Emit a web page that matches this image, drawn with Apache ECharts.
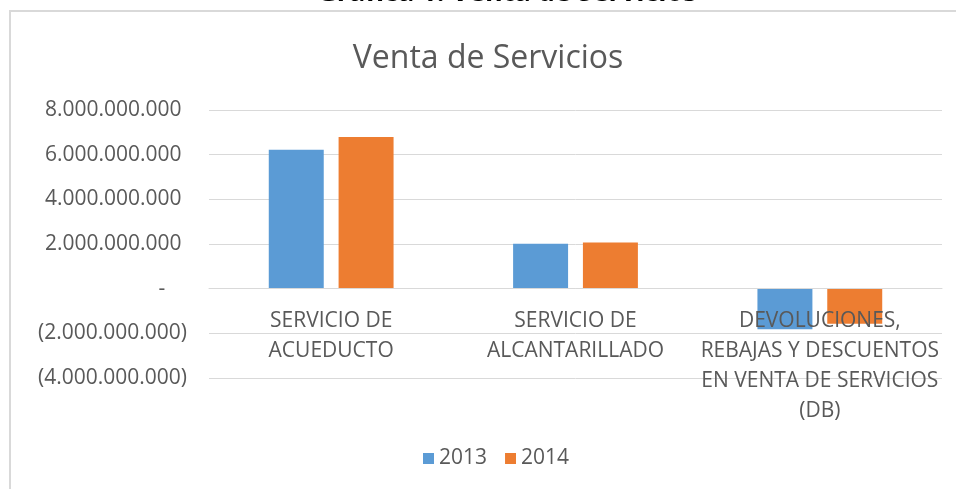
<!DOCTYPE html>
<html>
<head>
<meta charset="utf-8">
<script src="https://cdn.jsdelivr.net/npm/echarts@6/dist/echarts.min.js"></script>
<style>
  html, body { margin: 0; padding: 0; background: #fff; }
  #chart { width: 956px; height: 489px; }
</style>
</head>
<body>
<div id="chart"></div>
<script>
var categories = ['SERVICIO DE\nACUEDUCTO', 'SERVICIO DE\nALCANTARILLADO', 'DEVOLUCIONES,\nREBAJAS Y DESCUENTOS\nEN VENTA DE SERVICIOS\n(DB)'];
var serie2013 = [6220000000, 2010000000, -1820000000];
var serie2014 = [6790000000, 2070000000, -1570000000];
var yMin = -4000000000, yMax = 8000000000, yStep = 2000000000;

var txt = '#595959';
var font = 'Open Sans';

// formato contable tipo Excel: miles con punto, negativos entre paréntesis
function fmt(v){
    if(v === 0) return '-    ';
    var s = Math.abs(v).toString().replace(/\B(?=(\d{3})+(?!\d))/g, '.');
    return v < 0 ? '(' + s + ')' : s + ' ';
}

var chart = echarts.init(document.getElementById('chart'));
chart.setOption({
    animation: false,
    textStyle: { fontFamily: font },
    title: {
        text: 'Venta de Servicios',
        left: 483, top: 38, textAlign: 'center',
        textStyle: { fontFamily: font, fontSize: 32, fontWeight: 'normal', color: txt }
    },
    graphic: [
        {
            type: 'rect', shape: { x: 10, y: 11, width: 980, height: 500 },
            style: { fill: 'none', stroke: '#d9d9d9', lineWidth: 2 }, silent: true
        },
        {
            type: 'text', x: 507, y: -7,
            style: { text: 'Gráfica 1. Venta de Servicios', fill: '#000', font: 'bold 27px "Open Sans"', align: 'center', verticalAlign: 'middle' }
        }
    ],
    legend: {
        data: ['2013', '2014'],
        top: 443,
        left: 418,
        icon: 'rect',
        itemWidth: 11, itemHeight: 11, itemGap: 18,
        textStyle: { fontFamily: font, fontSize: 21, color: txt }
    },
    grid: { left: 209, right: 14, top: 110, bottom: 111, outerBoundsMode: 'none' },
    xAxis: {
        type: 'category',
        data: categories,
        z: 3,
        offset: -88,
        axisLine: { lineStyle: { color: '#d9d9d9', width: 1 } },
        axisTick: { show: false },
        axisLabel: { fontFamily: font, fontSize: 21, color: txt, lineHeight: 30, margin: 16, interval: 0 }
    },
    yAxis: {
        type: 'value',
        min: yMin, max: yMax, interval: yStep,
        axisLine: { show: false },
        axisTick: { show: false },
        splitLine: { lineStyle: { color: '#d9d9d9', width: 1 } },
        axisLabel: { fontFamily: font, fontSize: 21, color: txt, margin: 22, formatter: fmt }
    },
    series: [
        {
            name: '2013', type: 'bar', data: serie2013,
            barWidth: '22.5%', barGap: '27%',
            itemStyle: { color: '#5B9BD5' }
        },
        {
            name: '2014', type: 'bar', data: serie2014,
            barWidth: '22.5%', barGap: '27%',
            itemStyle: { color: '#ED7D31' }
        }
    ]
});
</script>
</body>
</html>
